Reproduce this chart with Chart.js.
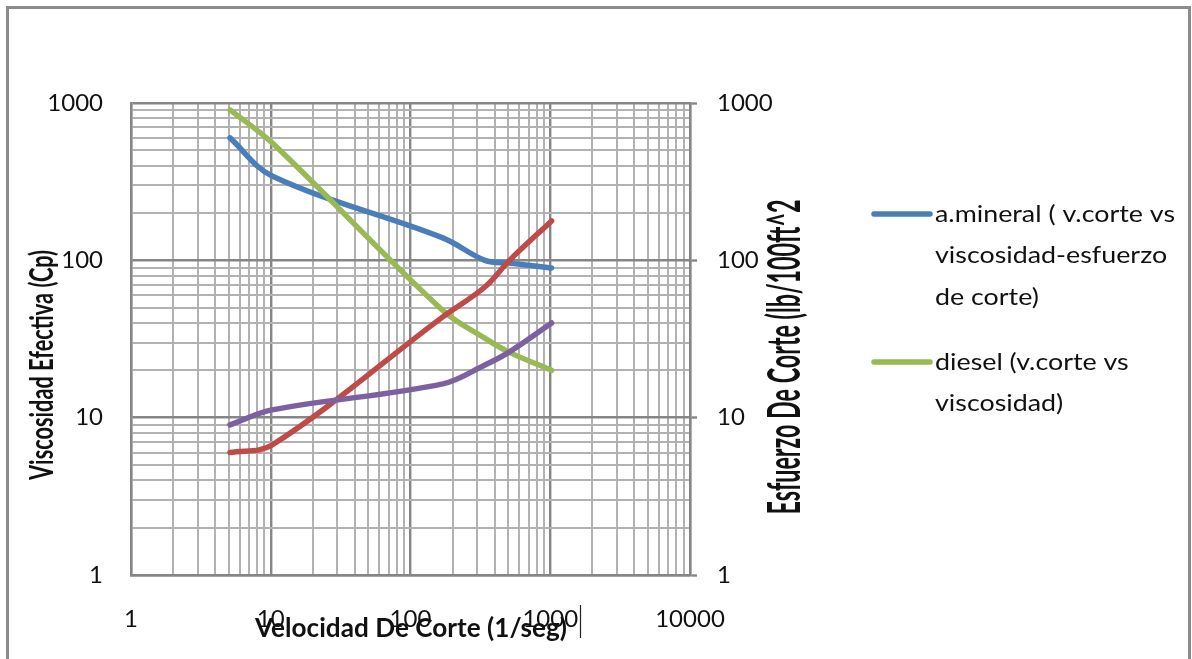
<!DOCTYPE html>
<html>
<head>
<meta charset="utf-8">
<script src="https://cdn.jsdelivr.net/npm/chart.js@4.4.1/dist/chart.umd.min.js"></script>
<style>
  html, body { margin: 0; padding: 0; background: #ffffff; }
  #wrap { width: 1192px; height: 659px; position: relative; }
</style>
</head>
<body>
<div id="wrap"><canvas id="c" width="1192" height="659"></canvas></div>
<script>
// Shear rates of the rotational viscometer readings (1/s)
const shearRate = [5.11, 10.22, 170.3, 340.6, 511, 1022];

// Effective viscosity (cP) — left axis
const mineralViscosity = [600, 344, 139, 100, 96, 89.5];
const dieselViscosity  = [904, 558, 48, 32, 26, 20];

// Shear stress (lb/100ft^2) — right axis
const mineralStress = [6, 6.7, 43.7, 67.7, 100, 178];
const dieselStress  = [9, 11.2, 16.4, 21.6, 26.2, 40];

const seriesNames = [
  'a.mineral ( v.corte vs viscosidad-esfuerzo de corte)',
  'diesel (v.corte vs viscosidad)',
  'a.mineral (v.corte vs esfuerzo de corte)',
  'diesel (v.corte vs esfuerzo de corte)'
];
const seriesColors = ['#4A7EBB', '#98B954', '#BE4B48', '#7D60A0'];

// Legend text, already broken into lines
const legendLines = [
  ['a.mineral ( v.corte vs', 'viscosidad-esfuerzo', 'de corte)'],
  ['diesel (v.corte vs', 'viscosidad)']
];

const xTickLabels = ['1', '10', '100', '1000', '10000'];
const yTickLabels = ['1', '10', '100', '1000'];

const xTitle  = 'Velocidad De Corte (1/seg)';
const yTitle  = 'Viscosidad Efectiva (Cp)';
const y2Title = 'Esfuerzo De Corte (lb/100ft^2';

const FONT = 'Lato, "Open Sans", sans-serif';
const GRID_MAJOR = '#868686';
const GRID_MINOR = '#B2B2B2';

function pairs(ys) { return shearRate.map((x, i) => ({ x: x, y: ys[i] })); }

function isDecade(v) {
  const l = Math.log10(v);
  return Math.abs(l - Math.round(l)) < 1e-9;
}

// 1..9 per decade so every minor grid line is present
function decadeTicks(maxExp) {
  const t = [];
  for (let e = 0; e < maxExp; e++) {
    for (let m = 1; m <= 9; m++) t.push({ value: m * Math.pow(10, e) });
  }
  t.push({ value: Math.pow(10, maxExp) });
  return t;
}

function labelFrom(list) {
  return function (value) {
    if (!isDecade(value)) return '';
    return list[Math.round(Math.log10(value))] || '';
  };
}

const gridStyle = {
  color: ctx => (ctx.tick && isDecade(ctx.tick.value)) ? GRID_MAJOR : GRID_MINOR,
  lineWidth: ctx => (ctx.tick && isDecade(ctx.tick.value)) ? 2.4 : 2,
  drawTicks: false
};

// Titles, legend and frame drawn on top of the chart
function drawFitted(ctx, text, cx, cy, rot, font, len) {
  ctx.save();
  ctx.font = font;
  const w = ctx.measureText(text).width;
  ctx.translate(cx, cy);
  ctx.rotate(rot);
  ctx.scale(len / w, 1);
  ctx.textAlign = 'center';
  ctx.textBaseline = 'alphabetic';
  ctx.fillStyle = '#111111';
  ctx.fillText(text, 0, 0);
  ctx.restore();
}

const decorations = {
  id: 'decorations',
  afterDraw(chart) {
    const ctx = chart.ctx;

    // outer frame
    ctx.save();
    ctx.strokeStyle = '#8C8C8C';
    ctx.lineWidth = 3;
    ctx.beginPath();
    ctx.moveTo(7.5, 670);
    ctx.lineTo(7.5, 7.5);
    ctx.lineTo(1189.5, 7.5);
    ctx.lineTo(1189.5, 670);
    ctx.stroke();
    ctx.restore();

    // axis titles
    drawFitted(ctx, yTitle, 53, 365, -Math.PI / 2, 'bold 33px ' + FONT, 230);
    drawFitted(ctx, y2Title, 800, 357, -Math.PI / 2, 'bold 45px ' + FONT, 315);
    drawFitted(ctx, xTitle, 411, 637, 0, 'bold 26px ' + FONT, 312);

    // text caret next to the axis title
    ctx.save();
    ctx.strokeStyle = '#222222';
    ctx.lineWidth = 1.2;
    ctx.beginPath();
    ctx.moveTo(580.5, 605);
    ctx.lineTo(580.5, 638);
    ctx.stroke();
    ctx.restore();

    // legend (first two series)
    ctx.save();
    ctx.font = '24px ' + FONT;
    ctx.textBaseline = 'middle';
    ctx.textAlign = 'left';
    const sx = 240 / ctx.measureText(legendLines[0][0]).width;
    const starts = [214, 362];
    const lineGap = 41.5;
    legendLines.forEach((lines, i) => {
      const y0 = starts[i];
      ctx.strokeStyle = seriesColors[i];
      ctx.lineWidth = 5.5;
      ctx.lineCap = 'round';
      ctx.beginPath();
      ctx.moveTo(874, y0);
      ctx.lineTo(930, y0);
      ctx.stroke();
      ctx.fillStyle = '#111111';
      lines.forEach((t, k) => {
        ctx.save();
        ctx.translate(935, y0 + k * lineGap);
        ctx.scale(sx, 1);
        ctx.fillText(t, 0, 0);
        ctx.restore();
      });
    });
    ctx.restore();
  }
};

const lineStyle = {
  borderWidth: 5.5,
  pointRadius: 0,
  pointHoverRadius: 0,
  tension: 0.35,
  borderCapStyle: 'round',
  borderJoinStyle: 'round',
  fill: false
};

new Chart(document.getElementById('c'), {
  type: 'line',
  data: {
    datasets: [
      Object.assign({ label: seriesNames[0], data: pairs(mineralViscosity), borderColor: seriesColors[0], yAxisID: 'y',  order: 4 }, lineStyle),
      Object.assign({ label: seriesNames[1], data: pairs(dieselViscosity),  borderColor: seriesColors[1], yAxisID: 'y',  order: 3 }, lineStyle),
      Object.assign({ label: seriesNames[2], data: pairs(mineralStress),    borderColor: seriesColors[2], yAxisID: 'y2', order: 2 }, lineStyle),
      Object.assign({ label: seriesNames[3], data: pairs(dieselStress),     borderColor: seriesColors[3], yAxisID: 'y2', order: 1 }, lineStyle)
    ]
  },
  options: {
    responsive: false,
    animation: false,
    events: [],
    layout: { padding: { top: 103, left: 0, right: 0, bottom: 0 } },
    plugins: {
      legend: { display: false },
      tooltip: { enabled: false },
      title: { display: false }
    },
    scales: {
      x: {
        type: 'logarithmic',
        min: 1, max: 10000,
        afterBuildTicks: s => { s.ticks = decadeTicks(4); },
        afterFit: s => { s.height = 84; },
        grid: gridStyle,
        border: { color: GRID_MAJOR, width: 2.4 },
        ticks: {
          autoSkip: false, maxRotation: 0, minRotation: 0,
          padding: 30,
          color: '#111111',
          font: { family: FONT, size: 24 },
          callback: labelFrom(xTickLabels)
        }
      },
      y: {
        type: 'logarithmic',
        position: 'left',
        min: 1, max: 1000,
        afterBuildTicks: s => { s.ticks = decadeTicks(3); },
        afterFit: s => { s.width = 131; },
        grid: gridStyle,
        border: { color: GRID_MAJOR, width: 2.4 },
        ticks: {
          autoSkip: false,
          padding: 28,
          color: '#111111',
          font: { family: FONT, size: 24 },
          callback: labelFrom(yTickLabels)
        }
      },
      y2: {
        type: 'logarithmic',
        position: 'right',
        min: 1, max: 1000,
        afterBuildTicks: s => { s.ticks = decadeTicks(3); },
        afterFit: s => { s.width = 502; },
        grid: {
          drawOnChartArea: false,
          drawTicks: true,
          tickLength: 7,
          tickWidth: 2.4,
          tickColor: ctx => (ctx.tick && isDecade(ctx.tick.value)) ? GRID_MAJOR : 'rgba(0,0,0,0)'
        },
        border: { color: GRID_MAJOR, width: 2.4 },
        ticks: {
          autoSkip: false,
          padding: 20,
          color: '#111111',
          font: { family: FONT, size: 24 },
          callback: labelFrom(yTickLabels)
        }
      }
    }
  },
  plugins: [decorations]
});
</script>
</body>
</html>
